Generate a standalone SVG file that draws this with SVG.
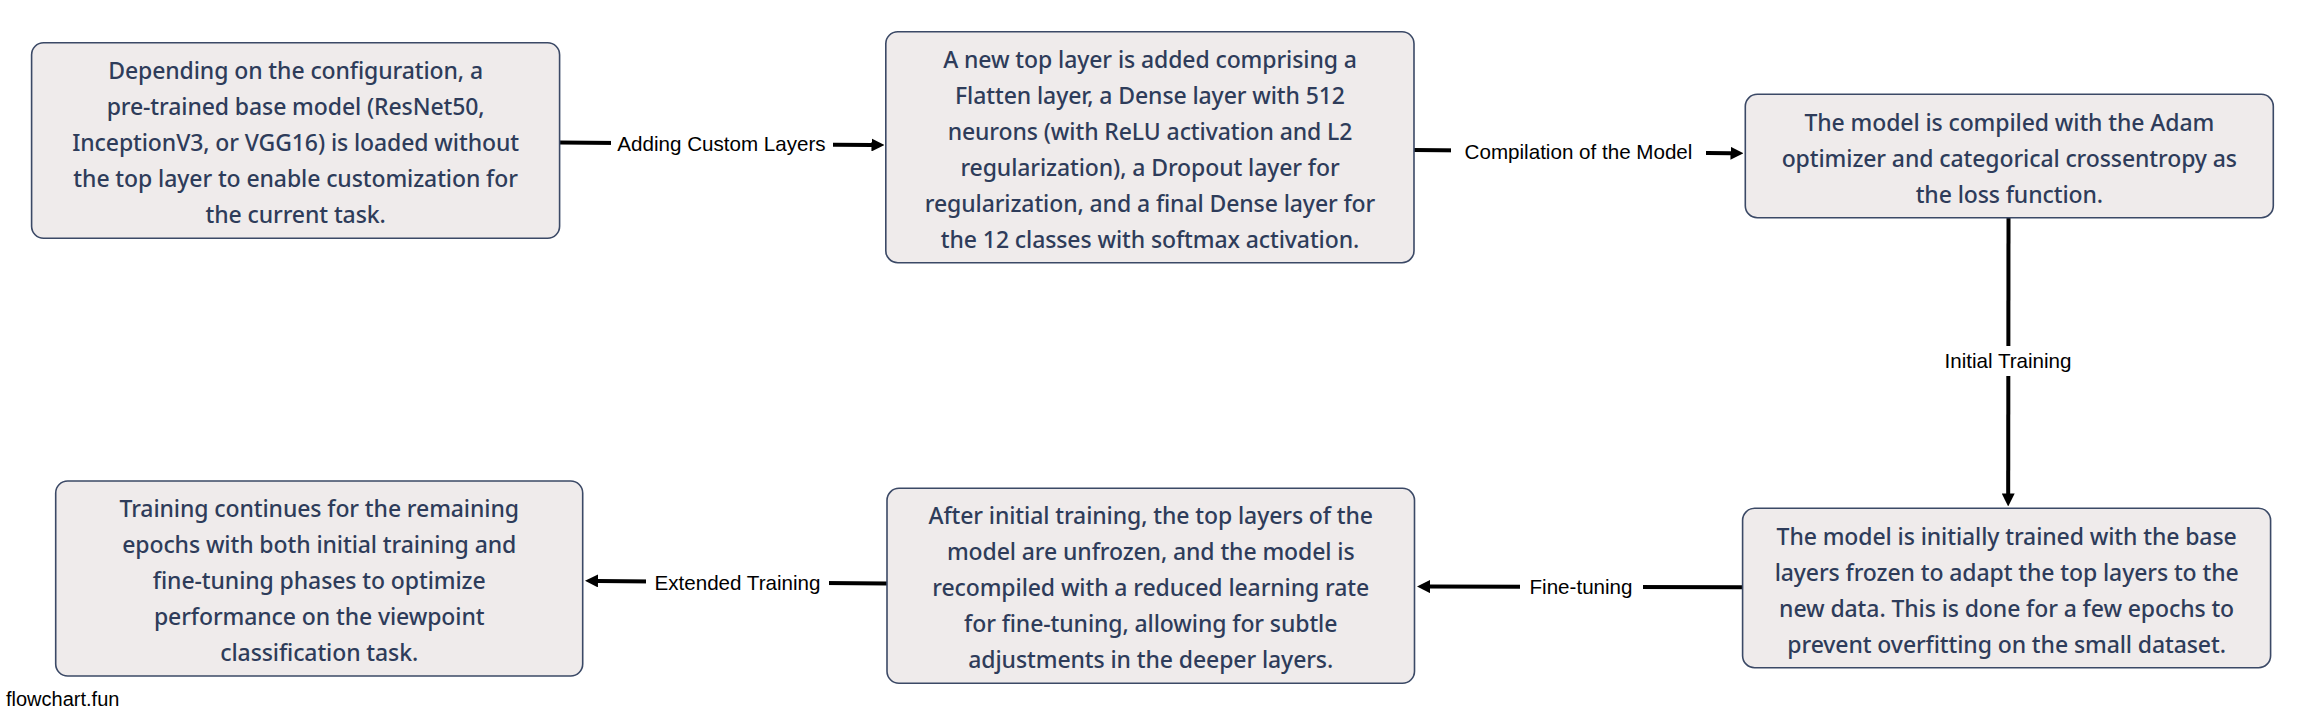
<svg xmlns="http://www.w3.org/2000/svg" width="2307" height="717" viewBox="0 0 2307 717">
<defs>
<style>
.node rect{fill:#efebeb;stroke:#3b4966;stroke-width:1.6}
.node text{font-family:"Noto Sans","Liberation Sans",sans-serif;font-weight:500;font-size:23px;letter-spacing:-0.1px;fill:#2e3c5a;text-anchor:middle}
.edge line{stroke:#000;stroke-width:4;fill:none}
.lbl rect{fill:#fff}
.lbl text{font-family:"Liberation Sans",Arial,sans-serif;font-size:20.6px;fill:#000;text-anchor:middle}
.brand{font-family:"Liberation Sans",Arial,sans-serif;font-size:20px;fill:#000}
</style>
<marker id="arr" viewBox="0 0 13 13" markerWidth="13" markerHeight="13" markerUnits="userSpaceOnUse" refX="0.5" refY="6.5" orient="auto">
<path d="M0,0 L13,6.5 L0,13 z" fill="#000"/>
</marker>
</defs>
<rect width="2307" height="717" fill="#fff"/>

<g id="connectors">
<g class="edge" id="e1">
<line x1="559.7" y1="142.6" x2="872" y2="145.0" marker-end="url(#arr)"/>
<g class="lbl"><rect x="611" y="132" width="222" height="24"/><text x="721.5" y="151.3">Adding Custom Layers</text></g>
</g>
<g class="edge" id="e2">
<line x1="1414" y1="149.9" x2="1731" y2="153.2" marker-end="url(#arr)"/>
<g class="lbl"><rect x="1451" y="140" width="255" height="24"/><text x="1578.5" y="159.1">Compilation of the Model</text></g>
</g>
<g class="edge" id="e3">
<line x1="2008.5" y1="218" x2="2008.2" y2="494" marker-end="url(#arr)"/>
<g class="lbl"><rect x="1936" y="346" width="144" height="30"/><text x="2008" y="368.3">Initial Training</text></g>
</g>
<g class="edge" id="e4">
<line x1="1742.6" y1="587.3" x2="1429.5" y2="586.6" marker-end="url(#arr)"/>
<g class="lbl"><rect x="1520" y="575" width="123" height="24"/><text x="1581" y="594.3">Fine-tuning</text></g>
</g>
<g class="edge" id="e5">
<line x1="887" y1="583.5" x2="597.5" y2="580.9" marker-end="url(#arr)"/>
<g class="lbl"><rect x="646" y="570" width="183" height="24"/><text x="737.5" y="589.6">Extended Training</text></g>
</g>
</g>

<g id="n1" class="node">
<rect x="31.6" y="42.7" width="528" height="195.6" rx="12"/>
<text x="295.6" y="78.5">Depending on the configuration, a</text>
<text x="295.6" y="114.5">pre-trained base model (ResNet50,</text>
<text x="295.6" y="150.5">InceptionV3, or VGG16) is loaded without</text>
<text x="295.6" y="186.5">the top layer to enable customization for</text>
<text x="295.6" y="222.5">the current task.</text>
</g>

<g id="n2" class="node">
<rect x="885.8" y="31.7" width="528.2" height="231" rx="12"/>
<text x="1150" y="67.5">A new top layer is added comprising a</text>
<text x="1150" y="103.5">Flatten layer, a Dense layer with 512</text>
<text x="1150" y="139.5">neurons (with ReLU activation and L2</text>
<text x="1150" y="175.5">regularization), a Dropout layer for</text>
<text x="1150" y="211.5">regularization, and a final Dense layer for</text>
<text x="1150" y="247.5">the 12 classes with softmax activation.</text>
</g>

<g id="n3" class="node">
<rect x="1745.3" y="94.3" width="528" height="123.4" rx="12"/>
<text x="2009.3" y="130.7">The model is compiled with the Adam</text>
<text x="2009.3" y="166.7">optimizer and categorical crossentropy as</text>
<text x="2009.3" y="202.7">the loss function.</text>
</g>

<g id="n4" class="node">
<rect x="1742.6" y="508.3" width="528" height="159.4" rx="12"/>
<text x="2006.6" y="545">The model is initially trained with the base</text>
<text x="2006.6" y="581">layers frozen to adapt the top layers to the</text>
<text x="2006.6" y="617">new data. This is done for a few epochs to</text>
<text x="2006.6" y="653">prevent overfitting on the small dataset.</text>
</g>

<g id="n5" class="node">
<rect x="887" y="488.3" width="527.5" height="195" rx="12"/>
<text x="1150.7" y="524.3">After initial training, the top layers of the</text>
<text x="1150.7" y="560.3">model are unfrozen, and the model is</text>
<text x="1150.7" y="596.3">recompiled with a reduced learning rate</text>
<text x="1150.7" y="632.3">for fine-tuning, allowing for subtle</text>
<text x="1150.7" y="668.3">adjustments in the deeper layers.</text>
</g>

<g id="n6" class="node">
<rect x="55.7" y="481" width="527" height="195" rx="12"/>
<text x="319.2" y="517">Training continues for the remaining</text>
<text x="319.2" y="553">epochs with both initial training and</text>
<text x="319.2" y="589">fine-tuning phases to optimize</text>
<text x="319.2" y="625">performance on the viewpoint</text>
<text x="319.2" y="661">classification task.</text>
</g>

<text class="brand" x="6" y="706">flowchart.fun</text>
</svg>
